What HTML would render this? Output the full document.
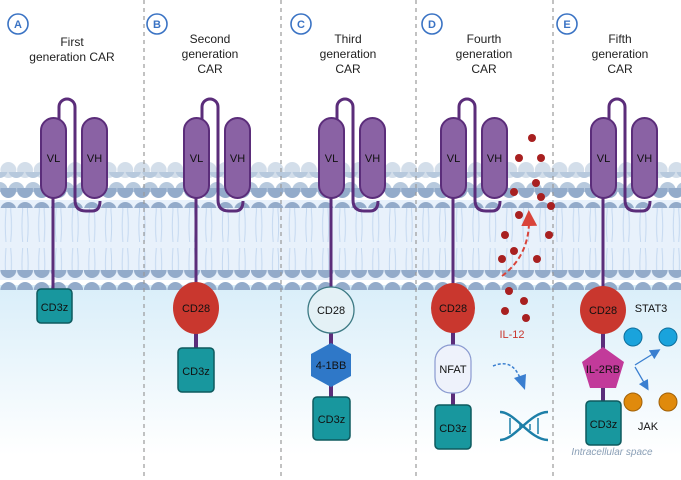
<!DOCTYPE html>
<html><head><meta charset="utf-8"><style>
body{margin:0;background:#fff}
svg{display:block;font-family:"Liberation Sans",sans-serif}
</style></head><body>
<svg width="681" height="480" viewBox="0 0 681 480" xmlns="http://www.w3.org/2000/svg">
<defs>
<linearGradient id="ic" x1="0" y1="0" x2="0" y2="1">
<stop offset="0" stop-color="#d9eef9"/><stop offset="1" stop-color="#ffffff"/>
</linearGradient>
<pattern id="tails" x="0" y="0" width="16.7" height="70" patternUnits="userSpaceOnUse">
<path d="M6,0 Q4.5,16 6,32 M10.7,0 Q12.2,16 10.7,32 M6,38 Q4.5,54 6,70 M10.7,38 Q12.2,54 10.7,70" stroke="#c4d8f0" stroke-width="1" fill="none"/>
</pattern>
<pattern id="h1" x="0" y="0" width="16.7" height="20" patternUnits="userSpaceOnUse"><circle cx="8.35" cy="10" r="8" fill="#d3deea"/></pattern>
<pattern id="h2" x="8" y="0" width="16.7" height="20" patternUnits="userSpaceOnUse"><circle cx="8.35" cy="10" r="8" fill="#b7c9dd"/></pattern>
<pattern id="h3" x="0" y="0" width="16.7" height="20" patternUnits="userSpaceOnUse"><circle cx="8.35" cy="10" r="8" fill="#93abca"/></pattern>
<marker id="ar" markerWidth="8" markerHeight="8" refX="4" refY="4" orient="auto"><path d="M0,0 L8,4 L0,8z" fill="#d9443a"/></marker>
<marker id="ab" markerWidth="8" markerHeight="8" refX="4" refY="4" orient="auto"><path d="M0,0 L8,4 L0,8z" fill="#3a7fd0"/></marker>
</defs>
<rect x="0" y="285" width="681" height="170" fill="url(#ic)"/>
<rect x="0" y="200" width="681" height="80" fill="#e8f1fb"/>
<rect x="0" y="205" width="681" height="70" fill="url(#tails)"/>
<rect x="0" y="160" width="681" height="20" fill="url(#h1)"/>
<rect x="0" y="172" width="681" height="20" fill="url(#h2)"/>
<rect x="0" y="188" width="681" height="20" fill="url(#h3)"/>
<rect x="0" y="270" width="681" height="20" fill="url(#h3)"/>
<g stroke="#9a9a9a" stroke-width="1.2" stroke-dasharray="4,4">
<line x1="144" y1="0" x2="144" y2="480"/><line x1="281" y1="0" x2="281" y2="480"/>
<line x1="416" y1="0" x2="416" y2="480"/><line x1="553" y1="0" x2="553" y2="480"/>
</g>
<g fill="none" stroke="#3a73c4" stroke-width="1.6">
<circle cx="18" cy="24" r="10"/><circle cx="157" cy="24" r="10"/><circle cx="301" cy="24" r="10"/><circle cx="432" cy="24" r="10"/><circle cx="567" cy="24" r="10"/>
</g>
<g fill="#3a73c4" font-size="11" font-weight="bold" text-anchor="middle">
<text x="18" y="28">A</text><text x="157" y="28">B</text><text x="301" y="28">C</text><text x="432" y="28">D</text><text x="567" y="28">E</text>
</g>
<g fill="#222" font-size="12" text-anchor="middle">
<text x="72" y="46">First</text><text x="72" y="61">generation CAR</text>
<text x="210" y="43">Second</text><text x="210" y="58">generation</text><text x="210" y="73">CAR</text>
<text x="348" y="43">Third</text><text x="348" y="58">generation</text><text x="348" y="73">CAR</text>
<text x="484" y="43">Fourth</text><text x="484" y="58">generation</text><text x="484" y="73">CAR</text>
<text x="620" y="43">Fifth</text><text x="620" y="58">generation</text><text x="620" y="73">CAR</text>
</g>
<g id="car">
<path d="M59,120 V107 a8,8 0 0 1 16,0 V200 q0,11 11,11 h6 q8,0 8,-10" fill="none" stroke="#5b2d7a" stroke-width="3"/>
<line x1="53" y1="195" x2="53" y2="290" stroke="#5b2d7a" stroke-width="3"/>
<rect x="41" y="118" width="25" height="80" rx="12.5" fill="#8a62a4" stroke="#5b2d7a" stroke-width="2"/>
<rect x="82" y="118" width="25" height="80" rx="12.5" fill="#8a62a4" stroke="#5b2d7a" stroke-width="2"/>
<text x="53.5" y="162" font-size="11" text-anchor="middle" fill="#111">VL</text>
<text x="94.5" y="162" font-size="11" text-anchor="middle" fill="#111">VH</text>
</g>
<use href="#car" x="143"/><use href="#car" x="278"/><use href="#car" x="400"/><use href="#car" x="550"/>
<g stroke="#5b2d7a" stroke-width="4">
<line x1="196" y1="330" x2="196" y2="350"/><line x1="331" y1="330" x2="331" y2="400"/>
<line x1="453" y1="330" x2="453" y2="405"/><line x1="603" y1="330" x2="603" y2="402"/>
</g>
<rect x="37" y="289" width="35" height="34" rx="4" fill="#18979e" stroke="#0e5a5e" stroke-width="1.5"/>
<text x="54.5" y="311" font-size="11" text-anchor="middle" fill="#111">CD3z</text>
<ellipse cx="196" cy="308" rx="23" ry="26" fill="#c9372e"/>
<text x="196" y="312" font-size="11" text-anchor="middle" fill="#111">CD28</text>
<rect x="178" y="348" width="36" height="44" rx="4" fill="#18979e" stroke="#0e5a5e" stroke-width="1.5"/>
<text x="196" y="375" font-size="11" text-anchor="middle" fill="#111">CD3z</text>
<ellipse cx="331" cy="310" rx="23" ry="23" fill="#e4f1f6" stroke="#3d7a84" stroke-width="1.3"/>
<text x="331" y="314" font-size="11" text-anchor="middle" fill="#111">CD28</text>
<polygon points="331,343 351,354 351,376 331,387 311,376 311,354" fill="#2f78c8"/>
<text x="331" y="369" font-size="11" text-anchor="middle" fill="#111">4-1BB</text>
<rect x="313" y="397" width="37" height="43" rx="4" fill="#18979e" stroke="#0e5a5e" stroke-width="1.5"/>
<text x="331.5" y="423" font-size="11" text-anchor="middle" fill="#111">CD3z</text>
<ellipse cx="453" cy="308" rx="22" ry="25" fill="#c9372e"/>
<text x="453" y="312" font-size="11" text-anchor="middle" fill="#111">CD28</text>
<rect x="435" y="345" width="36" height="48" rx="16" fill="#eef2fb" stroke="#8a9ad0" stroke-width="1.2"/>
<text x="453" y="373" font-size="11" text-anchor="middle" fill="#111">NFAT</text>
<rect x="435" y="405" width="36" height="44" rx="4" fill="#18979e" stroke="#0e5a5e" stroke-width="1.5"/>
<text x="453" y="432" font-size="11" text-anchor="middle" fill="#111">CD3z</text>
<g fill="#a82020">
<circle cx="532" cy="138" r="4"/><circle cx="519" cy="158" r="4"/><circle cx="541" cy="158" r="4"/><circle cx="536" cy="183" r="4"/><circle cx="514" cy="192" r="4"/><circle cx="541" cy="197" r="4"/><circle cx="551" cy="206" r="4"/><circle cx="519" cy="215" r="4"/><circle cx="505" cy="235" r="4"/><circle cx="549" cy="235" r="4"/><circle cx="502" cy="259" r="4"/><circle cx="514" cy="251" r="4"/><circle cx="537" cy="259" r="4"/><circle cx="509" cy="291" r="4"/><circle cx="524" cy="301" r="4"/><circle cx="505" cy="311" r="4"/><circle cx="526" cy="318" r="4"/>
</g>
<path d="M502,276 Q530,255 529,218" fill="none" stroke="#d9443a" stroke-width="2" stroke-dasharray="5,3" marker-end="url(#ar)"/>
<text x="512" y="338" font-size="11" text-anchor="middle" fill="#c9372e">IL-12</text>
<path d="M493,366 Q512,358 520,378" fill="none" stroke="#3a7fd0" stroke-width="1.5" stroke-dasharray="3,2"/>
<polygon points="514,378 526,374 525,390" fill="#3a7fd0"/>
<g fill="none" stroke="#1d7fa8" stroke-width="2.5">
<path d="M500,412 C515,412 530,440 548,440"/><path d="M500,440 C515,440 530,412 548,412"/>
<path d="M510,418 v16 M520,424 v6 M530,424 v6 M538,418 v16" stroke-width="1.5"/>
</g>
<ellipse cx="603" cy="310" rx="23" ry="24" fill="#c9372e"/>
<text x="603" y="314" font-size="11" text-anchor="middle" fill="#111">CD28</text>
<polygon points="603,347 624,362 616,388 590,388 582,362" fill="#c23a9a"/>
<text x="603" y="373" font-size="11" text-anchor="middle" fill="#111">IL-2RB</text>
<rect x="586" y="401" width="35" height="44" rx="4" fill="#18979e" stroke="#0e5a5e" stroke-width="1.5"/>
<text x="603.5" y="428" font-size="11" text-anchor="middle" fill="#111">CD3z</text>
<text x="651" y="312" font-size="11" text-anchor="middle" fill="#111">STAT3</text>
<circle cx="633" cy="337" r="9" fill="#1aa3dc" stroke="#0d6e9c" stroke-width="1"/>
<circle cx="668" cy="337" r="9" fill="#1aa3dc" stroke="#0d6e9c" stroke-width="1"/>
<circle cx="633" cy="402" r="9" fill="#e08a0c" stroke="#a06008" stroke-width="1"/>
<circle cx="668" cy="402" r="9" fill="#e08a0c" stroke="#a06008" stroke-width="1"/>
<path d="M635,365 L656,352" stroke="#3a7fd0" stroke-width="1.3" marker-end="url(#ab)"/>
<path d="M635,367 L646,386" stroke="#3a7fd0" stroke-width="1.3" marker-end="url(#ab)"/>
<text x="648" y="430" font-size="11" text-anchor="middle" fill="#111">JAK</text>
<text x="612" y="455" font-size="10" font-style="italic" text-anchor="middle" fill="#8a9fb6">Intracellular space</text>
</svg>
</body></html>
